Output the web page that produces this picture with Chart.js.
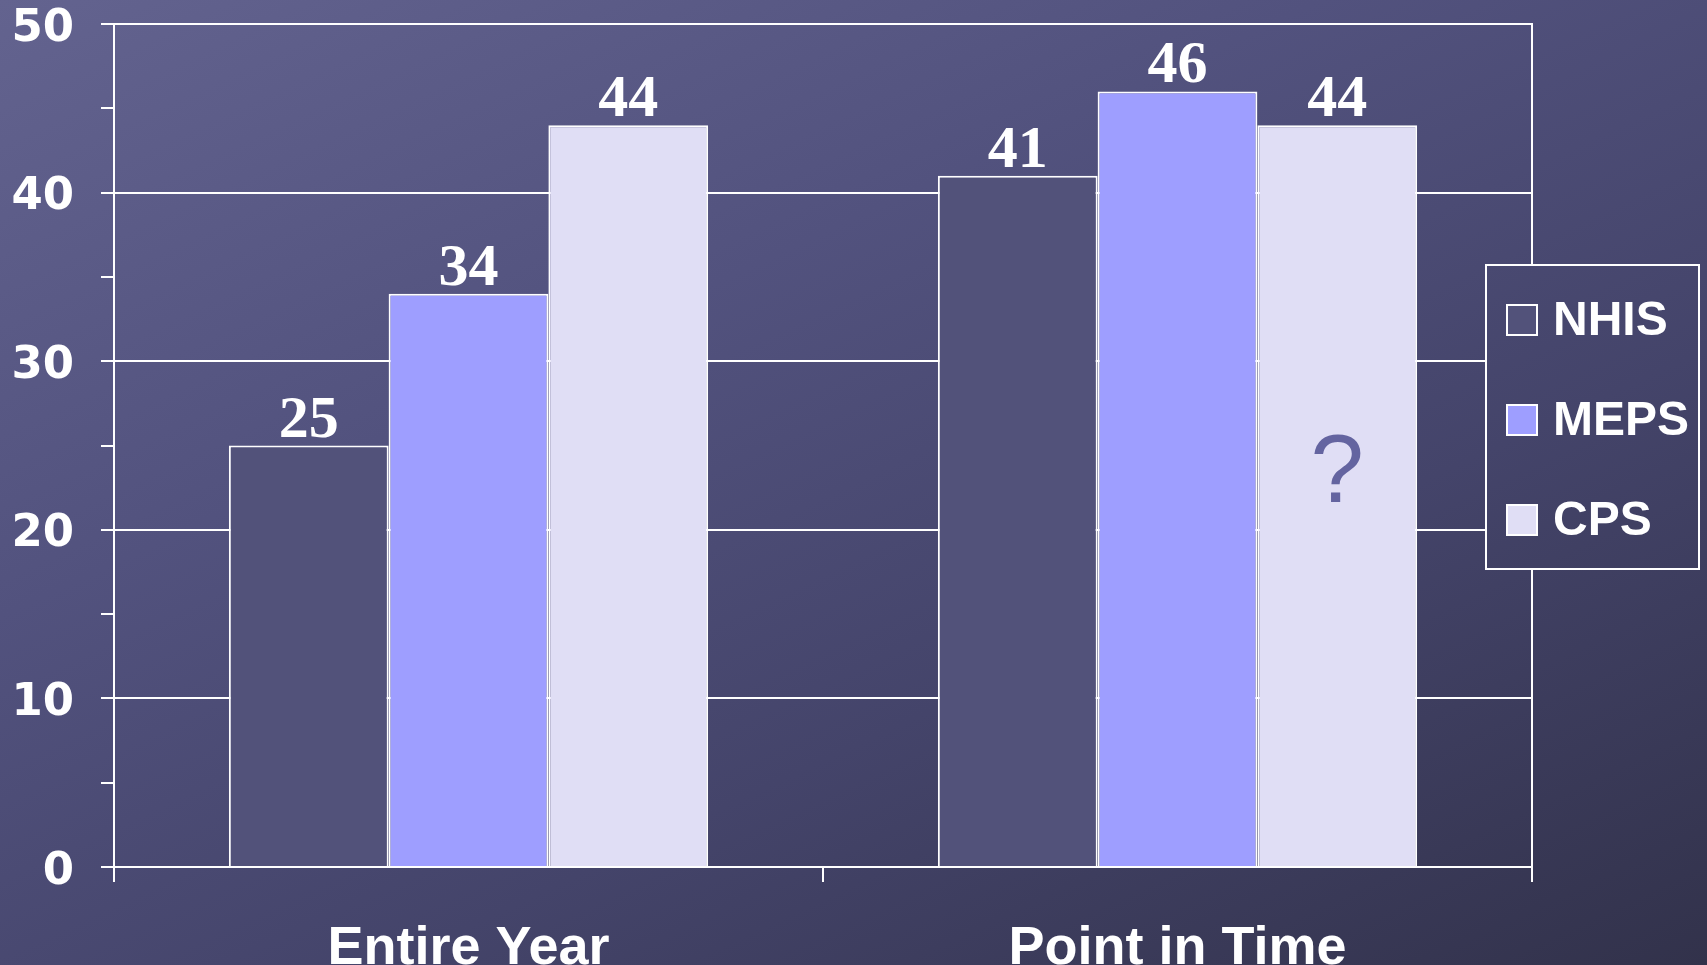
<!DOCTYPE html>
<html>
<head>
<meta charset="utf-8">
<script src="https://cdn.jsdelivr.net/npm/chart.js@4.4.1/dist/chart.umd.min.js"></script>
<style>
  html, body {
    margin: 0;
    padding: 0;
    width: 1707px;
    height: 965px;
    overflow: hidden;
    background: linear-gradient(155deg, #63638f 0%, #52527e 35%, #44446a 65%, #32324b 100%);
  }
  #wrap { position: relative; width: 1707px; height: 965px; }
</style>
</head>
<body>
<div id="wrap"><canvas id="chart" width="1707" height="965"></canvas></div>
<script>
const categories = ['Entire Year', 'Point in Time'];
const seriesNames = ['NHIS', 'MEPS', 'CPS'];
const nhisValues = [25, 41];
const mepsValues = [34, 46];
const cpsValues = [44, 44];
const yTickLabels = [0, 10, 20, 30, 40, 50];
const seriesColors = ['#52527a', '#9e9eff', '#e0def5'];
// the "?" drawn inside the CPS / Point in Time bar
const questionNote = { series: 2, index: 1, value: 23.2, text: '?' };

const valueLabels = {
    id: 'valueLabels',
    afterDatasetsDraw(chart) {
        const ctx = chart.ctx;
        ctx.save();
        ctx.font = 'bold 60px "Liberation Serif"';
        ctx.fillStyle = '#ffffff';
        ctx.textAlign = 'center';
        ctx.textBaseline = 'alphabetic';
        chart.data.datasets.forEach((ds, i) => {
            chart.getDatasetMeta(i).data.forEach((bar, j) => {
                ctx.fillText(String(ds.data[j]), bar.x, bar.y - 9);
            });
        });
        // question mark
        const bar = chart.getDatasetMeta(questionNote.series).data[questionNote.index];
        ctx.font = '96px "Liberation Sans"';
        ctx.fillStyle = '#6464a0';
        ctx.textBaseline = 'middle';
        ctx.fillText(questionNote.text, bar.x, chart.scales.y.getPixelForValue(questionNote.value));
        ctx.restore();
    }
};

const legendBox = {
    id: 'legendBox',
    afterDraw(chart) {
        const ctx = chart.ctx;
        const box = { x: 1486, y: 265, w: 213, h: 304 };
        ctx.save();
        ctx.clearRect(box.x, box.y, box.w, box.h);
        ctx.strokeStyle = '#ffffff';
        ctx.lineWidth = 2;
        ctx.strokeRect(box.x, box.y, box.w, box.h);
        ctx.font = 'bold 48px "Liberation Sans"';
        ctx.textAlign = 'left';
        ctx.textBaseline = 'middle';
        chart.data.datasets.forEach((ds, i) => {
            const cy = 320 + i * 100;
            ctx.fillStyle = ds.backgroundColor;
            ctx.fillRect(1507, cy - 15, 30, 30);
            ctx.strokeStyle = '#ffffff';
            ctx.lineWidth = 2;
            ctx.strokeRect(1507, cy - 15, 30, 30);
            ctx.fillStyle = '#ffffff';
            ctx.fillText(ds.label, 1553, cy + 2);
        });
        ctx.restore();
    }
};

const data = {
    labels: categories,
    datasets: [nhisValues, mepsValues, cpsValues].map((vals, i) => ({
        label: seriesNames[i],
        data: vals,
        backgroundColor: seriesColors[i],
        borderColor: '#ffffff',
        borderWidth: 2,
        borderSkipped: 'bottom',
        categoryPercentage: 0.676,
        barPercentage: 1.0
    }))
};

var id = document.getElementById('chart').getContext('2d');

var chart = new Chart(id, {
    type: 'bar',
    data: data,
    plugins: [valueLabels, legendBox],
    options: {
        responsive: false,
        animation: false,
        layout: {
            padding: { left: 12, right: 175, top: 24, bottom: 0 }
        },
        plugins: {
            legend: { display: false },
            tooltip: { enabled: false }
        },
        scales: {
            x: {
                afterFit: s => { s.height = 98; },
                grid: {
                    display: true,
                    drawOnChartArea: false,
                    offset: true,
                    color: '#ffffff',
                    lineWidth: 2,
                    tickLength: 15
                },
                border: { color: '#ffffff', width: 2 },
                ticks: {
                    color: '#ffffff',
                    padding: 40,
                    font: { family: 'Liberation Sans', weight: 'bold', size: 54, lineHeight: 1.0 }
                }
            },
            y: {
                min: 0,
                max: 50,
                afterFit: s => { s.width = 102; s.paddingTop = 0; s.paddingBottom = 0; },
                ticks: {
                    stepSize: 5,
                    color: '#ffffff',
                    padding: 27,
                    labelOffset: 5,
                    font: { family: 'DejaVu Sans', weight: 'bold', size: 45, lineHeight: 1.0 },
                    callback: v => yTickLabels.includes(v) ? v : ''
                },
                grid: {
                    color: c => yTickLabels.includes(c.tick.value) ? '#ffffff' : 'rgba(0,0,0,0)',
                    tickColor: '#ffffff',
                    lineWidth: 2,
                    tickLength: 13
                },
                border: { color: '#ffffff', width: 2 }
            },
            y2: {
                position: 'right',
                min: 0,
                max: 50,
                afterFit: s => { s.width = 0; s.paddingTop = 0; s.paddingBottom = 0; },
                grid: { display: false },
                ticks: { display: false },
                border: { color: '#ffffff', width: 2 }
            }
        }
    }
});
</script>
</body>
</html>
